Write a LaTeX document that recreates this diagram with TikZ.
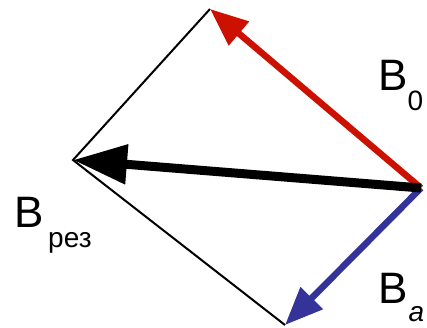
\documentclass[tikz,border=0pt]{standalone}
\usepackage{fontspec}
\setmainfont{Liberation Sans}
\usetikzlibrary{arrows.meta}
\definecolor{vred}{RGB}{204,17,0}
\definecolor{vblue}{RGB}{51,51,153}
\tikzset{
  thinline/.style={line width=2pt, black},
  vec/.style={line width=6.5pt, -{Triangle[length=38pt,width=30pt]}},
  lbl/.style={inner sep=0pt, anchor=base west, font=\fontsize{44}{44}\selectfont}
}
\newcommand{\subtxt}[2][-20pt]{\raisebox{#1}{\fontsize{28}{28}\selectfont #2}}
\begin{document}
\begin{tikzpicture}[x=1pt,y=-1pt]
\useasboundingbox (0,0) rectangle (427,327);
\coordinate (O) at (421,188);
\coordinate (A) at (210,9);
\coordinate (R) at (73,160);
\coordinate (C) at (285,325);
\draw[thinline, line join=miter] (A) -- (R) -- (C);
\draw[vec, vred] (O) -- (A);
\draw[vec, vblue] (O) -- (C);
\draw[vec, black, line width=9pt, -{Triangle[length=54pt,width=38pt]}] (O) -- (R);
\node[lbl] (b0) at (378,90) {B\subtxt{0}};
\node[lbl] (bres) at (14,227) {B\subtxt{\,рез}};
\node[lbl] (ba) at (378,303) {B\subtxt[-18pt]{\kern1pt\itshape a}};
\end{tikzpicture}
\end{document}
